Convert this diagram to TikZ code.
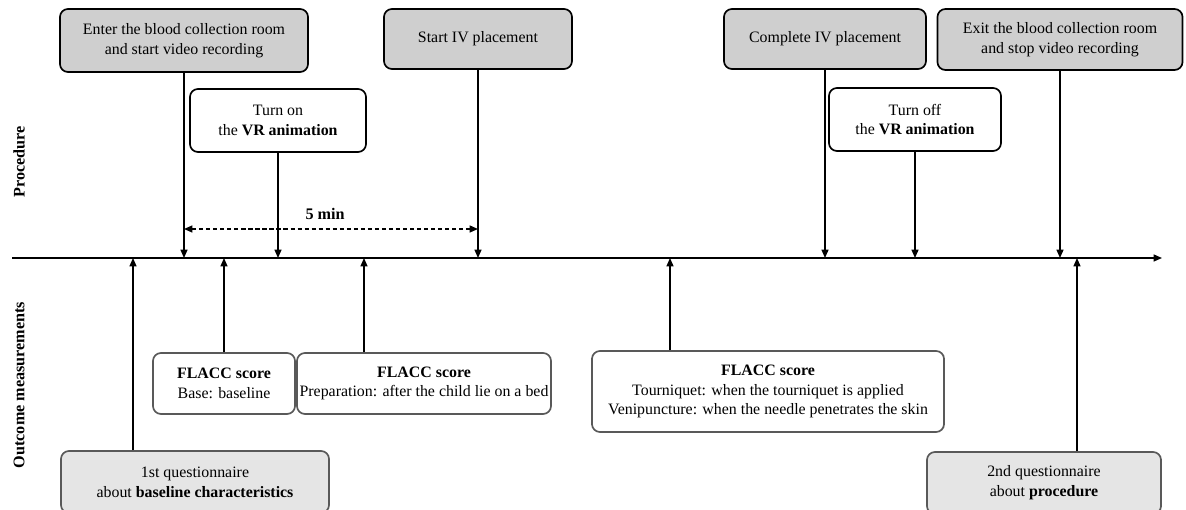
\documentclass[tikz,border=0pt]{standalone}
\usepackage{fontspec}
\setmainfont{Liberation Serif}
\usetikzlibrary{arrows.meta,positioning}

\begin{document}
\begin{tikzpicture}[x=0.025cm,y=-0.025cm,
  event/.style={draw,rectangle,rounded corners=0.2cm,line width=1.2pt,
    align=center,inner sep=0pt,font=\fontsize{11.3}{14}\selectfont},
  procbox/.style={event,fill=gray!38},
  vrbox/.style={event,fill=white},
  scorebox/.style={event,draw=black!65,fill=white},
  quesbox/.style={event,draw=black!65,fill=gray!20},
  arrow/.style={-{Triangle[length=6pt,width=5pt]},line width=1pt},
  side/.style={rotate=90,font=\fontsize{11.5}{14}\selectfont\bfseries},
]
  \useasboundingbox (0,0) rectangle (1186,510);

  % timeline
  \coordinate (tl0) at (12,258);
  \coordinate (tl1) at (1162,258);
  \draw[arrow] (tl0) -- (tl1);

  \node[side] (proc) at (19,162) {Procedure};
  \node[side] (outc) at (19,385) {Outcome measurements};

  % procedure
  \node[procbox,minimum width=6.2cm,minimum height=1.575cm] (enter) at (184,40.5)
    {Enter the blood collection room\\and start video recording};
  \node[procbox,minimum width=4.7cm,minimum height=1.5cm] (startiv) at (478,39)
    {Start IV placement};
  \node[procbox,minimum width=5.05cm,minimum height=1.5cm] (compiv) at (825,39)
    {Complete IV placement};
  \node[procbox,minimum width=6.125cm,minimum height=1.525cm] (exitroom) at (1060,39.5)
    {Exit the blood collection room\\and stop video recording};
  \node[vrbox,minimum width=4.4cm,minimum height=1.575cm] (vron) at (278,120.5)
    {Turn on\\the \textbf{VR animation}};
  \node[vrbox,minimum width=4.3cm,minimum height=1.575cm] (vroff) at (915,119.5)
    {Turn off\\the \textbf{VR animation}};

  \foreach \n in {enter,startiv,compiv,exitroom,vron,vroff}
    \draw[arrow] (\n.south) -- (\n.south |- tl0);

  \coordinate (fivemin) at (0,229);
  \draw[arrow,{Triangle[length=6pt,width=5pt]}-{Triangle[length=6pt,width=5pt]},
    dash pattern=on 3pt off 2pt]
    (enter.south |- fivemin) -- node[pos=0.48,above=3pt,
      font=\fontsize{11.5}{14}\selectfont\bfseries] (fivelbl) {5 min}
    (startiv.south |- fivemin);

  % outcome measurements
  \node[scorebox,minimum width=3.55cm,minimum height=1.525cm] (base) at (224,383.5)
    {\textbf{FLACC score}\\Base: baseline};
  \node[scorebox,minimum width=6.35cm,minimum height=1.525cm] (prep) at (424,383.5)
    {\textbf{FLACC score}\\Preparation: after the child lie on a bed};
  \node[scorebox,minimum width=8.8cm,minimum height=2.025cm] (tourn) at (768,391.5)
    {\textbf{FLACC score}\\Tourniquet: when the tourniquet is applied\\
     Venipuncture: when the needle penetrates the skin};
  \node[quesbox,minimum width=6.7cm,minimum height=1.55cm] (ques1) at (195,482)
    {1st questionnaire\\about \textbf{baseline characteristics}};
  \node[quesbox,minimum width=5.85cm,minimum height=1.55cm] (ques2) at (1044,483)
    {2nd questionnaire\\about \textbf{procedure}};

  \coordinate (m1) at (133,258);
  \coordinate (m2) at (224,258);
  \coordinate (m3) at (364,258);
  \coordinate (m4) at (670,258);
  \coordinate (m5) at (1077,258);
  \draw[arrow] (ques1.north -| m1) -- (m1);
  \draw[arrow] (base.north -| m2) -- (m2);
  \draw[arrow] (prep.north -| m3) -- (m3);
  \draw[arrow] (tourn.north -| m4) -- (m4);
  \draw[arrow] (ques2.north -| m5) -- (m5);
\end{tikzpicture}
\end{document}
